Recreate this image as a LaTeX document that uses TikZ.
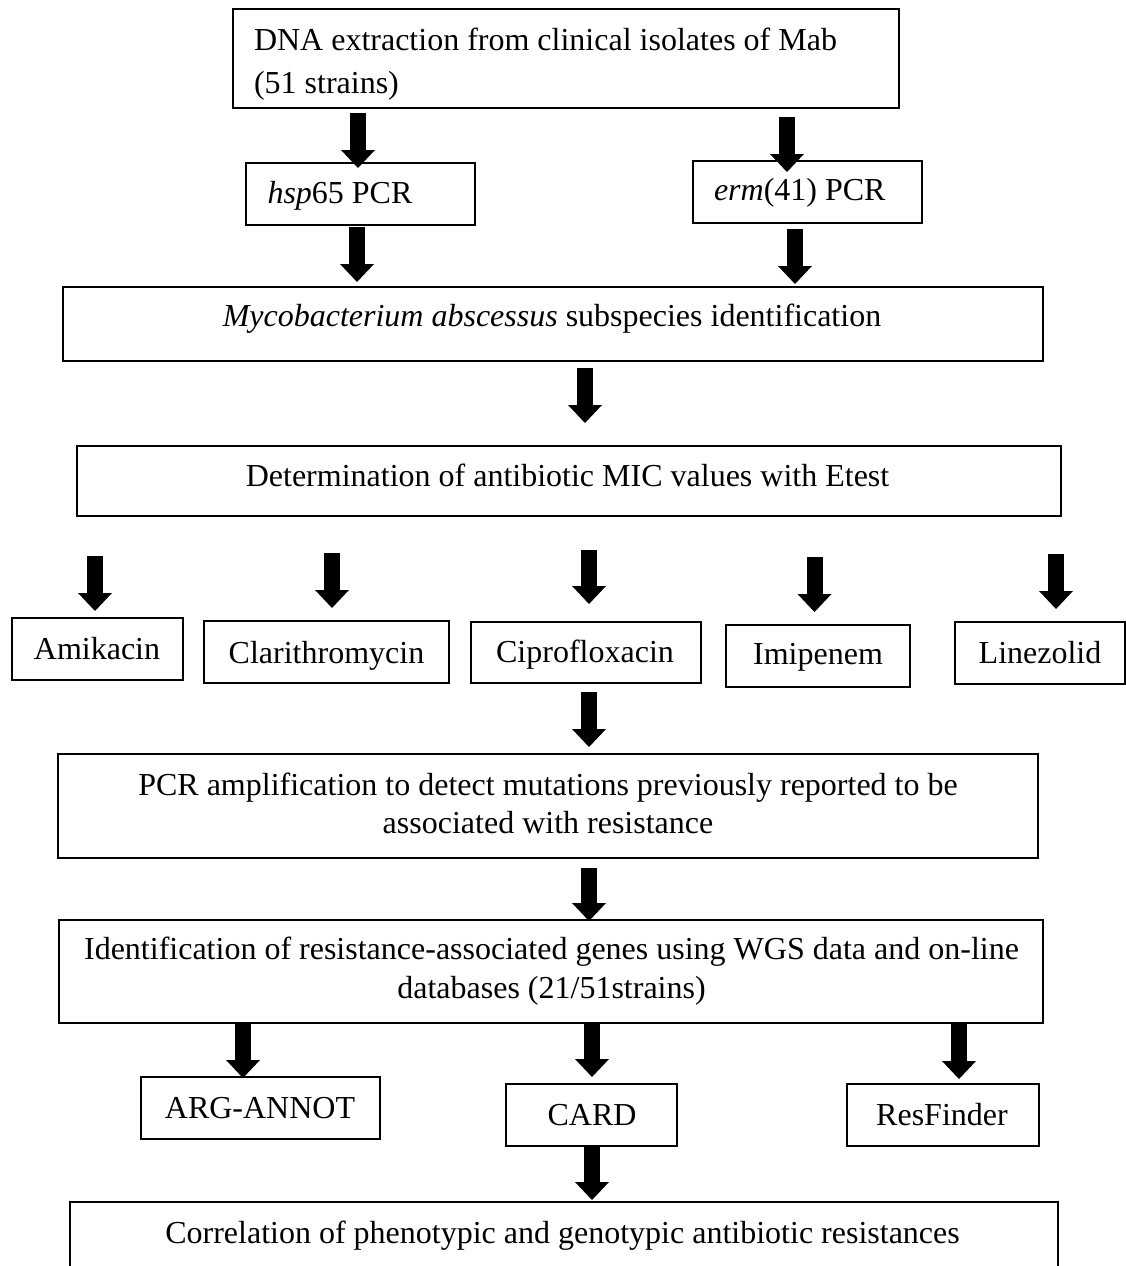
\documentclass[tikz,border=0pt]{standalone}
\usepackage{fontspec}
\setmainfont{Liberation Serif}
\usetikzlibrary{arrows.meta,calc}
\tikzset{
  box/.style={draw, line width=2.4pt, inner sep=0pt, outer sep=0pt},
  txt/.style={inner sep=0pt, outer sep=0pt, font=\fontsize{32pt}{38pt}\selectfont},
  fat/.style={line width=16pt, -{Triangle[width=34pt,length=18pt,line width=0pt]}},
}
\newcommand{\mybox}[5]{%
  \node[box, minimum width={#3-#2}, minimum height={#5-#4}] (#1) at ({(#2+#3)/2},{(#4+#5)/2}) {};}
% name, x, source anchor, offset, target anchor, offset
\newcommand{\myarrow}[6]{%
  \coordinate (#1) at (#2,0);
  \draw[fat] ($(#3 -| #1)+(0,#4)$) -- ($(#5 -| #1)+(0,#6)$);}
\begin{document}
\begin{tikzpicture}[x=1pt,y=-1pt]
\useasboundingbox (0,0) rectangle (1126,1266);
\clip (0,0) rectangle (1126,1266);
\fill[white] (0,0) rectangle (1126,1266);
% boxes
\mybox{dna}{233}{899}{9}{108}
\mybox{hsp}{246}{475}{163}{225}
\mybox{erm}{693}{922}{161}{223}
\mybox{myco}{63}{1043}{287}{361}
\mybox{det}{77}{1061}{446}{516}
\mybox{ami}{12}{183}{618}{680}
\mybox{cla}{204}{449}{621}{683}
\mybox{cip}{471}{701}{622}{683}
\mybox{imi}{726}{910}{625}{687}
\mybox{lin}{955}{1125}{622}{684}
\mybox{pcr}{58}{1038}{754}{858}
\mybox{ide}{59}{1043}{920}{1023}
\mybox{arg}{141}{380}{1077}{1139}
\mybox{card}{506}{677}{1084}{1146}
\mybox{res}{847}{1039}{1084}{1146}
\mybox{corr}{70}{1058}{1202}{1300}
% texts
\node[txt, anchor=base west] (dnaA) at (254,50) {DNA extraction from clinical isolates of Mab};
\node[txt, anchor=base west] (dnaB) at (254,93) {(51 strains)};
\node[txt, anchor=base west] (hspT) at (267.5,203) {\textit{hsp}65 PCR};
\node[txt, anchor=base west] (ermT) at (714,200) {\textit{erm}(41) PCR};
\node[txt, anchor=base] (mycoT) at (552,326) {\textit{Mycobacterium abscessus} subspecies identification};
\node[txt, anchor=base] (detT) at (567.5,486) {Determination of antibiotic MIC values with Etest};
\node[txt, anchor=base] (amiT) at (97,659) {Amikacin};
\node[txt, anchor=base] (claT) at (326.5,663) {Clarithromycin};
\node[txt, anchor=base] (cipT) at (585,662) {Ciprofloxacin};
\node[txt, anchor=base] (imiT) at (818,664.5) {Imipenem};
\node[txt, anchor=base] (linT) at (1040,663) {Linezolid};
\node[txt, anchor=base] (pcrA) at (548,795) {PCR amplification to detect mutations previously reported to be};
\node[txt, anchor=base] (pcrB) at (548,833) {associated with resistance};
\node[txt, anchor=base] (ideA) at (551.5,959) {Identification of resistance-associated genes using WGS data and on-line};
\node[txt, anchor=base] (ideB) at (551.5,998) {databases (21/51strains)};
\node[txt, anchor=base] (argT) at (260,1118) {ARG-ANNOT};
\node[txt, anchor=base] (cardT) at (592,1125) {CARD};
\node[txt, anchor=base] (resT) at (942,1125) {ResFinder};
\node[txt, anchor=base] (corrT) at (562.5,1243) {Correlation of phenotypic and genotypic antibiotic resistances};
% arrows
\myarrow{xa}{358}{dna.south}{5}{hsp.north}{5}
\myarrow{xb}{357}{hsp.south}{2}{myco.north}{-5}
\myarrow{xc}{787}{dna.south}{9}{erm.north}{11}
\myarrow{xd}{795}{erm.south}{6}{myco.north}{-3}
\myarrow{xe}{585}{myco.south}{7}{det.north}{-23}
\myarrow{xf}{95}{det.south}{40}{ami.north}{-7}
\myarrow{xg}{332}{det.south}{37}{cla.north}{-13}
\myarrow{xh}{589}{det.south}{34}{cip.north}{-18}
\myarrow{xi}{814.5}{det.south}{41}{imi.north}{-13}
\myarrow{xj}{1056}{det.south}{38}{lin.north}{-13}
\myarrow{xk}{589}{cip.south}{9}{pcr.north}{-7}
\myarrow{xl}{589}{pcr.south}{10}{ide.north}{1}
\myarrow{xm}{243}{ide.south}{1}{arg.north}{1}
\myarrow{xn}{592}{ide.south}{1}{card.north}{-7}
\myarrow{xo}{959}{ide.south}{1}{res.north}{-5}
\myarrow{xp}{592}{card.south}{1}{corr.north}{-2}
\end{tikzpicture}
\end{document}
